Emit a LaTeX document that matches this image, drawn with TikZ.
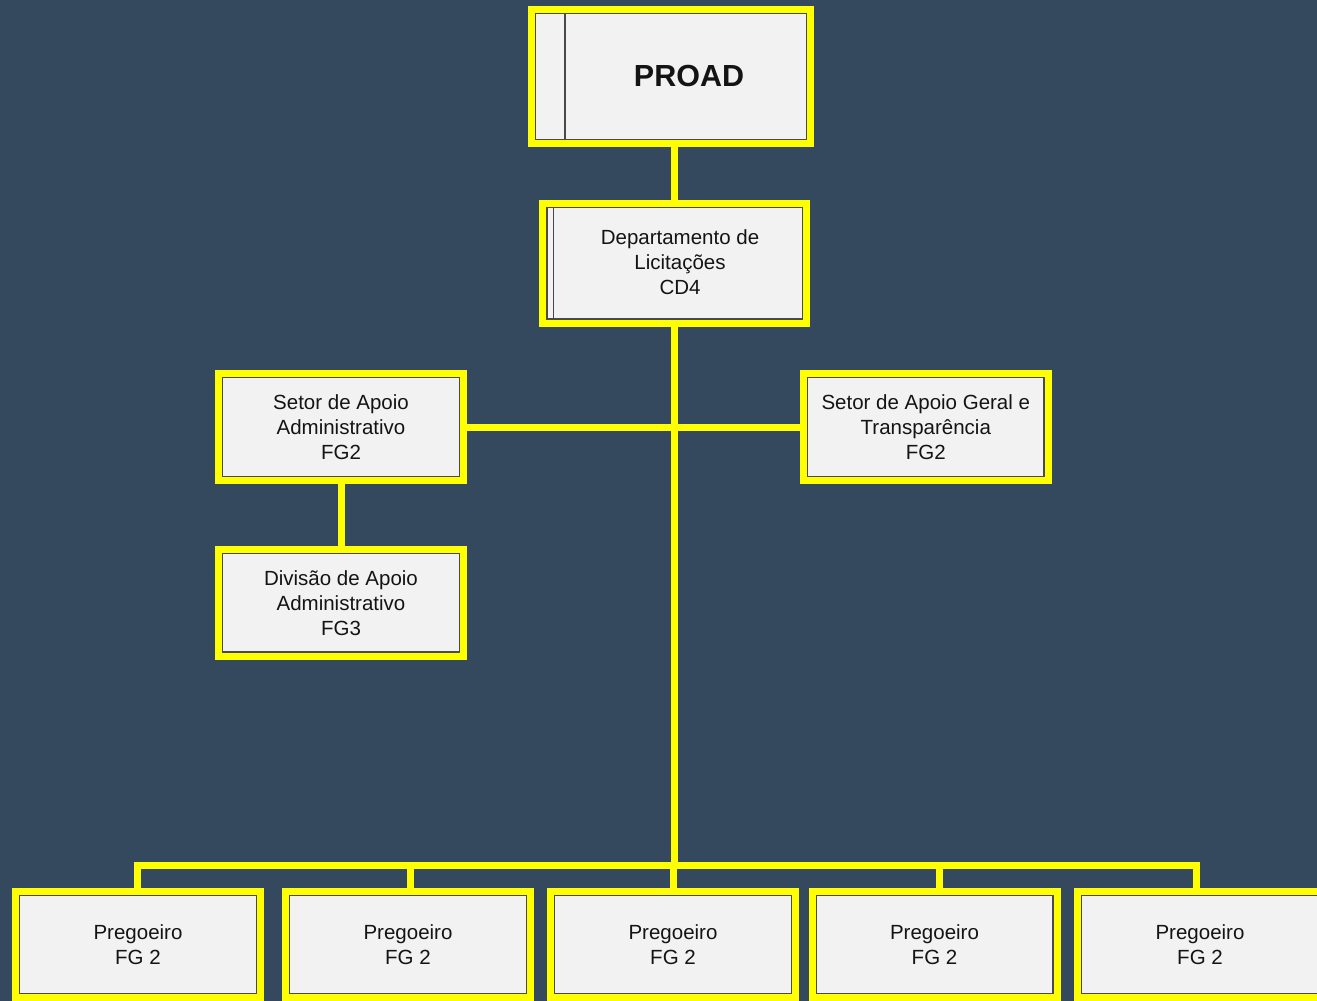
\documentclass[tikz,border=0pt]{standalone}
\usepackage{fontspec}
\setmainfont{Liberation Sans}
\definecolor{bg}{HTML}{34495E}
\definecolor{ybord}{HTML}{FFFF00}
\definecolor{panel}{HTML}{F2F2F2}
\definecolor{edgegray}{HTML}{4A4A4A}
\definecolor{ink}{HTML}{141414}
\begin{document}
\begin{tikzpicture}[x=1pt,y=-1pt,
  orgbox/.style={rectangle, draw=ybord, line width=7pt, fill=panel, inner sep=0pt, outer sep=0pt,
    path picture={\draw[edgegray, line width=1.4pt]
      ([shift={(4.2pt,-4.2pt)}]path picture bounding box.north west) rectangle
      ([shift={(-4.2pt,4.2pt)}]path picture bounding box.south east);}},
  txt/.style={text=ink, align=center, font=\fontsize{20.5}{25}\selectfont},
  lowbox/.style={orgbox, txt, minimum width=245pt, minimum height=106pt},
  midbox/.style={orgbox, txt, minimum width=245pt, minimum height=107pt},
  conn/.style={draw=ybord, line width=7pt, line join=miter},
  panelline/.style={draw=edgegray, line width=1.4pt}]
\useasboundingbox (0,0) rectangle (1317,1001);
\fill[bg] (0,0) rectangle (1317,1001);

% boxes
\node[orgbox, minimum width=279pt, minimum height=134pt] (proad) at (671,76.5) {};
\node[txt, font=\bfseries\fontsize{30.5}{36}\selectfont] (proadtxt) at (689,76) {PROAD};
\draw[panelline, line width=2.8pt] ([shift={(33.5pt,-4.2pt)}]proad.north west) -- ([shift={(33.5pt,4.2pt)}]proad.south west);

\node[orgbox, minimum width=264pt, minimum height=120pt] (dept) at (674.7,263.3) {};
\node[txt] (depttxt) at (680,262) {Departamento de\\Licitações\\CD4};
\draw[panelline] ([shift={(10.5pt,-4.2pt)}]dept.north west) -- ([shift={(10.5pt,4.2pt)}]dept.south west);

\node[midbox] (setA) at (341,427) {Setor de Apoio\\Administrativo\\FG2};
\node[midbox] (divA) at (341,602.8) {Divisão de Apoio\\Administrativo\\FG3};
\node[midbox] (setG) at (925.8,427) {Setor de Apoio Geral e\\Transparência\\FG2};

\node[lowbox] (p1) at (138,944.5) {Pregoeiro\\FG 2};
\node[lowbox] (p2) at (408,944.5) {Pregoeiro\\FG 2};
\node[lowbox] (p3) at (673,944.5) {Pregoeiro\\FG 2};
\node[lowbox] (p4) at (934.5,944.5) {Pregoeiro\\FG 2};
\node[lowbox] (p5) at (1200,944.5) {Pregoeiro\\FG 2};

% connectors
\coordinate (bus) at (674.5,865);
\draw[conn] (dept.north) -- (dept.north |- proad.south);
\draw[conn] (dept.south) -- (dept.south |- bus);
\draw[conn] (setA.east) -- (setA.east -| setG.west);
\draw[conn] (setA.south) -- (divA.north);
\draw[conn] ([xshift=-1pt]p1.north) -- ([xshift=-1pt]p1.north |- bus) -- ([xshift=-4pt]p5.north |- bus) -- ([xshift=-4pt]p5.north);
\draw[conn] ([xshift=2pt]p2.north) -- ([xshift=2pt]p2.north |- bus);
\draw[conn] (p3.north) -- (p3.north |- bus);
\draw[conn] ([xshift=4.5pt]p4.north) -- ([xshift=4.5pt]p4.north |- bus);
\end{tikzpicture}
\end{document}
